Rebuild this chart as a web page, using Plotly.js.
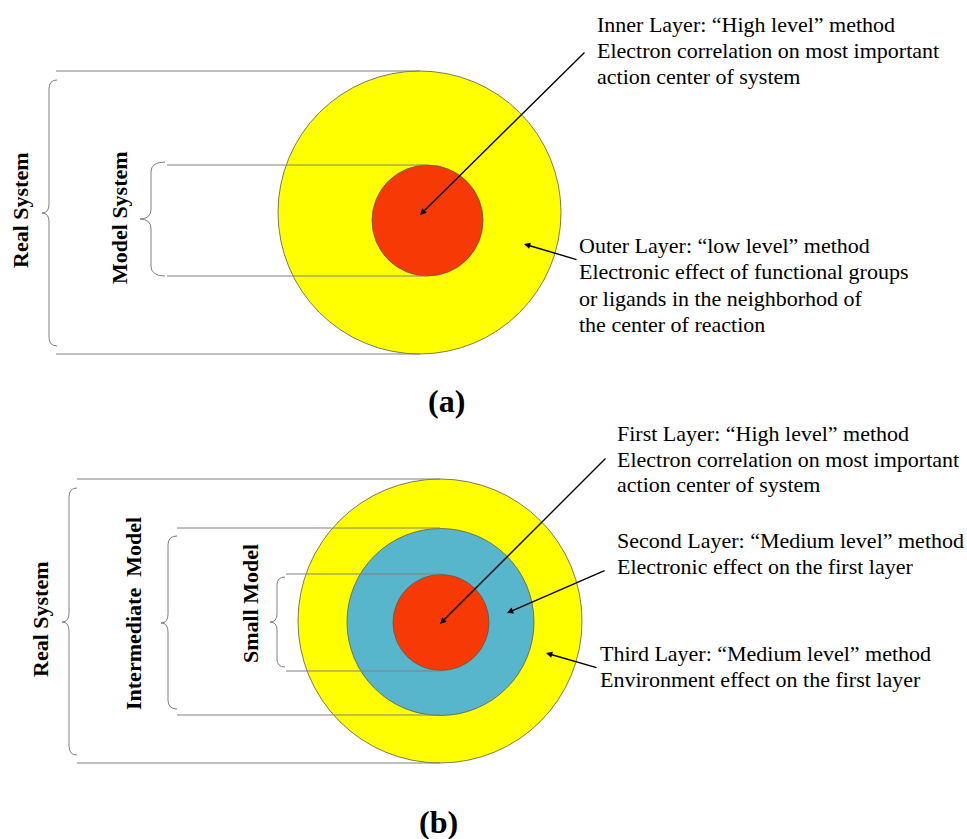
<!DOCTYPE html>
<html>
<head>
<meta charset="utf-8">
<script src="https://cdn.plot.ly/plotly-3.0.1.min.js"></script>
<style>html,body{margin:0;padding:0;background:#fff;}#chart{width:967px;height:839px;}</style>
</head>
<body>
<div id="chart"></div>
<script>
// ---- content (data) ----
const panelLabels = ["(a)", "(b)"];
const bracketLabelsA = ["Real System", "Model System"];
const bracketLabelsB = ["Real System", "Intermediate  Model", "Small Model"];
const layerNamesA = ["Outer Layer", "Inner Layer"];
const layerNamesB = ["Third Layer", "Second Layer", "First Layer"];
const descInnerA = ["Inner Layer: \u201cHigh level\u201d method", "Electron correlation on most important", "action center of system"];
const descOuterA = ["Outer Layer: \u201clow level\u201d method", "Electronic effect of functional groups", "or ligands in the neighborhod of", "the center of reaction"];
const descFirstB = ["First Layer: \u201cHigh level\u201d method", "Electron correlation on most important", "action center of system"];
const descSecondB = ["Second Layer: \u201cMedium level\u201d method", "Electronic effect on the first layer"];
const descThirdB = ["Third Layer: \u201cMedium level\u201d method", "Environment effect on the first layer"];
// layer radii (outer -> inner), diagram units
const radiiA = [141.5, 55.5];
const radiiB = [142, 93.5, 48];

// ---- geometry & style ----
const SERIF = "Liberation Serif, Times New Roman, serif";
const colorsA = ["#FFFF00", "#F73A05"];
const colorsB = ["#FFFF00", "#58B6CC", "#F73A05"];
const outline = {color: "#5a5a4a", width: 0.8};
const grey = {color: "#808080", width: 1};

const geomA = {
  centers: [[419.5, 212.5], [427.5, 220.5]],
  lines: [ // per bracket: [xStart, yTop, yBot, xEnd]
    [56, 71, 354, 420], [167, 165, 276, 427]
  ],
  braces: [ // tip, spine, end, top, mid, bottom, r
    [42, 49, 57, 80, 213, 346, 9], [140, 151, 165, 162, 219, 276, 10]
  ],
  labelPos: [[20, 211], [119, 218]],
  texts: [{x: 596, y0: 32, dy: 25.8, lines: descInnerA}, {x: 578, y0: 253, dy: 26.3, lines: descOuterA}],
  arrows: [[420, 215, 586, 51], [524, 244, 578, 260]],
  panel: [446.5, 412]
};
const geomB = {
  centers: [[440, 621], [440.5, 622], [441, 622.5]],
  lines: [[77, 479, 763, 440], [177, 528, 715, 440], [286, 574, 671, 441]],
  braces: [
    [62, 69, 77, 488, 622, 755, 9], [161, 168, 177, 536, 623, 709, 9], [270, 277, 285, 577, 622, 667, 8]
  ],
  labelPos: [[40, 620], [133, 614], [250, 604]],
  texts: [
    {x: 616, y0: 441, dy: 25.5, lines: descFirstB},
    {x: 616, y0: 548, dy: 26, lines: descSecondB},
    {x: 599, y0: 661, dy: 26, lines: descThirdB}
  ],
  arrows: [[440, 624, 607, 457], [507, 613, 606, 570], [546, 653, 598, 668]],
  panel: [438.5, 833]
};

const shapes = [];
const annotations = [];
const FS = 22;

function bracePath(b) {
  const [xt, xs, xe, yt, ym, yb, r] = b;
  return `M ${xe},${yt} Q ${xs},${yt} ${xs},${yt + r} L ${xs},${ym - r} Q ${xs},${ym} ${xt},${ym} ` +
         `Q ${xs},${ym} ${xs},${ym + r} L ${xs},${yb - r} Q ${xs},${yb} ${xe},${yb}`;
}

function buildPanel(radii, colors, geom, bracketLabels, panelLabel) {
  radii.forEach((r, i) => {
    const [cx, cy] = geom.centers[i];
    shapes.push({type: "circle", xref: "x", yref: "y", x0: cx - r, x1: cx + r, y0: cy - r, y1: cy + r,
      fillcolor: colors[i], line: outline, layer: "above"});
  });
  geom.lines.forEach(l => {
    shapes.push({type: "line", xref: "x", yref: "y", x0: l[0], x1: l[3], y0: l[1], y1: l[1], line: grey});
    shapes.push({type: "line", xref: "x", yref: "y", x0: l[0], x1: l[3], y0: l[2], y1: l[2], line: grey});
  });
  geom.braces.forEach(b => {
    shapes.push({type: "path", xref: "x", yref: "y", path: bracePath(b), line: grey});
  });
  bracketLabels.forEach((t, i) => {
    const [x, y] = geom.labelPos[i];
    annotations.push({x, y, xref: "x", yref: "y", text: "<b>" + t + "</b>", showarrow: false, textangle: -90,
      xanchor: "center", yanchor: "middle", font: {family: SERIF, size: FS, color: "#000"}});
  });
  geom.texts.forEach(block => {
    block.lines.forEach((t, k) => {
      const base = block.y0 + k * block.dy;
      annotations.push({x: block.x, y: base - 0.3375 * FS, xref: "x", yref: "y", text: t, showarrow: false,
        xanchor: "left", yanchor: "middle", font: {family: SERIF, size: FS, color: "#000"}, borderpad: 0});
    });
  });
  geom.arrows.forEach(a => {
    annotations.push({x: a[0], y: a[1], ax: a[2], ay: a[3], xref: "x", yref: "y", axref: "x", ayref: "y",
      text: "", showarrow: true, arrowhead: 2, arrowsize: 0.9, arrowwidth: 1.4, arrowcolor: "#000", standoff: 0});
  });
  annotations.push({x: geom.panel[0], y: geom.panel[1] - 0.3375 * 32, xref: "x", yref: "y", text: "<b>" + panelLabel + "</b>",
    showarrow: false, xanchor: "center", yanchor: "middle", font: {family: SERIF, size: 32, color: "#000"}});
}

buildPanel(radiiA, colorsA, geomA, bracketLabelsA, panelLabels[0]);
buildPanel(radiiB, colorsB, geomB, bracketLabelsB, panelLabels[1]);

const layout = {
  width: 967, height: 839,
  margin: {l: 0, r: 0, t: 0, b: 0},
  paper_bgcolor: "#fff", plot_bgcolor: "#fff",
  showlegend: false,
  xaxis: {range: [0, 967], visible: false, fixedrange: true},
  yaxis: {range: [839, 0], visible: false, fixedrange: true},
  shapes, annotations
};
Plotly.newPlot("chart", [{x: [], y: [], type: "scatter", mode: "markers", hoverinfo: "skip"}], layout,
  {displayModeBar: false, staticPlot: true});
</script>
</body>
</html>
